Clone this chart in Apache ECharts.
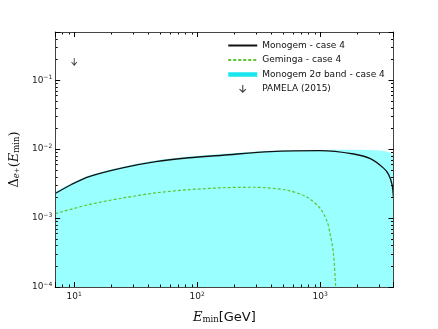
<!DOCTYPE html>
<html>
<head>
<meta charset="utf-8">
<script src="https://cdn.jsdelivr.net/npm/echarts@6/dist/echarts.min.js"></script>
<style>
  html, body { margin: 0; padding: 0; background: #fff; }
  #chart { width: 438px; height: 329px; }
</style>
</head>
<body>
<div id="chart"></div>
<script>
// axis limits
const X_MIN = 7, X_MAX = 3950
const Y_MIN = 1e-4, Y_MAX = 0.5

// tick values
const xMajor = [10, 100, 1000]
const xMinor = [8, 9, 20, 30, 40, 50, 60, 70, 80, 90, 200, 300, 400, 500, 600, 700, 800, 900, 2000, 3000]
const yMajor = [1e-4, 1e-3, 1e-2, 1e-1]
const yMinor = [2e-4, 3e-4, 4e-4, 5e-4, 6e-4, 7e-4, 8e-4, 9e-4,
                2e-3, 3e-3, 4e-3, 5e-3, 6e-3, 7e-3, 8e-3, 9e-3,
                2e-2, 3e-2, 4e-2, 5e-2, 6e-2, 7e-2, 8e-2, 9e-2,
                2e-1, 3e-1, 4e-1]

// Monogem - case 4
const monoE = [7, 9.5, 13.2, 24.7, 46, 86, 160, 395, 1000, 1875, 2560, 3280, 3600, 3840, 3950]
const monoD = [2.27e-3, 3.07e-3, 4.0e-3, 5.36e-3, 6.6e-3, 7.5e-3, 8.15e-3, 9.2e-3, 9.5e-3, 8.5e-3, 7.26e-3, 5.3e-3, 4.3e-3, 3.07e-3, 1.95e-3]

// Geminga - case 4
const gemE = [7, 13.2, 24.7, 46, 86, 160, 290, 540, 785, 1005, 1140, 1200, 1280, 1340, 1360]
const gemD = [1.16e-3, 1.57e-3, 1.95e-3, 2.32e-3, 2.58e-3, 2.75e-3, 2.8e-3, 2.53e-3, 2.0e-3, 1.37e-3, 8.9e-4, 6.1e-4, 3.2e-4, 1.0e-4, 8e-5]

// Monogem 2 sigma band - upper edge
const bandE = [7, 9.5, 13.2, 24.7, 46, 86, 170, 395, 1000, 1875, 2560, 3280, 3700, 3950]
const bandD = [2.4e-3, 3.2e-3, 4.15e-3, 5.55e-3, 6.85e-3, 7.8e-3, 8.55e-3, 9.45e-3, 9.75e-3, 9.8e-3, 9.7e-3, 9.4e-3, 8.9e-3, 8.0e-3]

// PAMELA (2015) upper limit
const pamE = [10]
const pamD = [0.184]

const names = ['Monogem - case 4', 'Geminga - case 4', 'Monogem 2\u03c3 band - case 4', 'PAMELA (2015)']

const zip = (a, b) => a.map((v, i) => [v, b[i]])

const arrowPath = 'path://M4.4,0 L5.6,0 L5.6,6.6 L8.3,4.2 L9,5 L5,9 L1,5 L1.7,4.2 L4.4,6.6 Z'

const tickLabelRich = {
  b: { fontSize: 9, fontFamily: 'DejaVu Sans', color: '#222', lineHeight: 12 },
  s: { fontSize: 6, fontFamily: 'DejaVu Sans', color: '#222', verticalAlign: 'top', lineHeight: 7 }
}
function powLabel(v) {
  const e = Math.round(Math.log10(v))
  return '{b|10}{s|' + String(e).replace('-', '\u2212') + '}'
}

function makeAxis(kind, pos, major) {
  const isX = kind === 'x'
  const ax = {
    type: 'log',
    logBase: 10,
    min: isX ? X_MIN : Y_MIN,
    max: isX ? X_MAX : Y_MAX,
    position: pos,
    z: 10,
    splitLine: { show: false },
    axisLine: { show: true, onZero: false, lineStyle: { color: '#444', width: 1 } },
    axisTick: { show: true, inside: true, length: 5, lineStyle: { color: '#000', width: 1 } },
    axisLabel: { show: false },
    minorTick: { show: false }
  }
  if (pos === 'bottom' || pos === 'left') {
    ax.axisLabel = {
      show: true,
      customValues: major,
      margin: isX ? 4 : 3,
      formatter: powLabel,
      rich: tickLabelRich
    }
  }
  return ax
}

// minor ticks, drawn on both sides of the frame
function minorTicks(isX) {
  return function (params, api) {
    const cs = params.coordSys
    const L = 2.5
    const st = { stroke: '#000', lineWidth: 1 }
    if (isX) {
      const x = Math.round(api.coord([api.value(0), Y_MIN])[0]) + 0.5
      const b = cs.y + cs.height
      return { type: 'group', children: [
        { type: 'line', shape: { x1: x, y1: b, x2: x, y2: b - L }, style: st },
        { type: 'line', shape: { x1: x, y1: cs.y, x2: x, y2: cs.y + L }, style: st }
      ] }
    }
    const y = Math.round(api.coord([X_MIN, api.value(1)])[1]) + 0.5
    const r = cs.x + cs.width
    return { type: 'group', children: [
      { type: 'line', shape: { x1: cs.x, y1: y, x2: cs.x + L, y2: y }, style: st },
      { type: 'line', shape: { x1: r, y1: y, x2: r - L, y2: y }, style: st }
    ] }
  }
}

const chart = echarts.init(document.getElementById('chart'))

const xAxes = [makeAxis('x', 'bottom', xMajor), makeAxis('x', 'top', xMajor)]
xAxes[0].name = '{it|E}{sb|min}{gv|[GeV]}'
xAxes[0].nameLocation = 'middle'
xAxes[0].nameGap = 21
xAxes[0].nameTextStyle = {
  rich: {
    it: { fontSize: 13, fontFamily: 'DejaVu Serif', fontStyle: 'italic', color: '#111', verticalAlign: 'bottom', lineHeight: 16 },
    sb: { fontSize: 8.5, fontFamily: 'DejaVu Serif', color: '#111', verticalAlign: 'bottom', lineHeight: 13 },
    gv: { fontSize: 13, fontFamily: 'DejaVu Sans', color: '#111', verticalAlign: 'bottom', lineHeight: 16 }
  }
}

const yAxes = [makeAxis('y', 'left', yMajor), makeAxis('y', 'right', yMajor)]
yAxes[0].name = '{n|\u0394}{sb|e}{sp|+}{n|(}{it|E}{sm|min}{n|)}'
yAxes[0].nameLocation = 'middle'
yAxes[0].nameRotate = 90
yAxes[0].nameGap = 20
yAxes[0].nameTextStyle = {
  rich: {
    n: { fontSize: 13, fontFamily: 'DejaVu Serif', color: '#111', verticalAlign: 'bottom', lineHeight: 16 },
    it: { fontSize: 13, fontFamily: 'DejaVu Serif', fontStyle: 'italic', color: '#111', verticalAlign: 'bottom', lineHeight: 16 },
    sb: { fontSize: 8.5, fontFamily: 'DejaVu Serif', fontStyle: 'italic', color: '#111', verticalAlign: 'bottom', lineHeight: 11 },
    sp: { fontSize: 7, fontFamily: 'DejaVu Serif', color: '#111', verticalAlign: 'bottom', lineHeight: 14 },
    sm: { fontSize: 8.5, fontFamily: 'DejaVu Serif', color: '#111', verticalAlign: 'bottom', lineHeight: 12 }
  }
}

chart.setOption({
  animation: false,
  backgroundColor: '#fff',
  grid: { left: 55, right: 44.5, top: 32, bottom: 33.3, containLabel: false },
  legend: {
    orient: 'vertical',
    left: 226,
    top: 41,
    padding: 0,
    itemWidth: 29,
    itemHeight: 8,
    itemGap: 5.5,
    textStyle: { fontSize: 9, fontFamily: 'DejaVu Sans', color: '#111' },
    data: [
      { name: names[0], itemStyle: { opacity: 0 } },
      { name: names[1], itemStyle: { opacity: 0 } },
      { name: names[2], itemStyle: { opacity: 0 }, lineStyle: { width: 4.5, color: '#19e6ee', opacity: 1 } },
      { name: names[3] }
    ]
  },
  xAxis: xAxes,
  yAxis: yAxes,
  series: [
    {
      name: names[2],
      type: 'line',
      data: zip(bandE, bandD),
      smooth: 0.3,
      symbol: 'none',
      lineStyle: { width: 0, color: '#99ffff' },
      itemStyle: { color: '#19e6ee' },
      areaStyle: { color: '#99ffff', opacity: 1, origin: Y_MIN },
      z: 1
    },
    {
      name: names[0],
      type: 'line',
      data: zip(monoE, monoD),
      smooth: 0.3,
      symbol: 'none',
      lineStyle: { width: 1.3, color: '#111' },
      itemStyle: { color: '#111' },
      z: 3
    },
    {
      name: names[1],
      type: 'line',
      data: zip(gemE, gemD),
      smooth: 0.3,
      symbol: 'none',
      lineStyle: { width: 1.2, color: '#5ec532', type: [3, 2] },
      itemStyle: { color: '#5ec532' },
      z: 2
    },
    {
      name: names[3],
      type: 'scatter',
      data: zip(pamE, pamD),
      symbol: arrowPath,
      symbolSize: [6, 8],
      itemStyle: { color: '#111' },
      z: 4
    },
    {
      type: 'custom',
      silent: true,
      clip: false,
      data: xMinor.map(v => [v, Y_MIN]),
      renderItem: minorTicks(true),
      z: 5
    },
    {
      type: 'custom',
      silent: true,
      clip: false,
      data: yMinor.map(v => [X_MIN, v]),
      renderItem: minorTicks(false),
      z: 5
    }
  ]
})
</script>
</body>
</html>
